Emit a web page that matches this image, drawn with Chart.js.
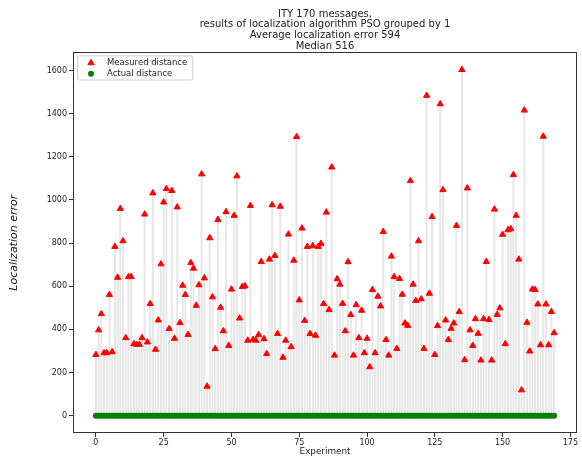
<!DOCTYPE html>
<html>
<head>
<meta charset="utf-8">
<script src="https://cdn.jsdelivr.net/npm/chart.js@4/dist/chart.umd.min.js"></script>
<style>
  html, body { margin: 0; padding: 0; background: #ffffff; }
  #wrap { width: 582px; height: 457px; }
</style>
</head>
<body>
<div id="wrap"><canvas id="c" width="582" height="457"></canvas></div>
<script>
// Localization error per experiment (170 messages, PSO, grouped by 1)
const measuredDistance = [
  283, 397, 472, 291, 291, 561, 296, 784, 641, 960,
  810, 361, 644, 644, 333, 330, 330, 361, 934, 341,
  519, 1032, 307, 443, 703, 990, 1052, 403, 1043, 358,
  967, 431, 604, 561, 376, 709, 683, 511, 606, 1120,
  638, 136, 824, 550, 310, 909, 502, 393, 945, 325,
  586, 928, 1111, 452, 598, 601, 349, 974, 353, 349,
  375, 714, 356, 287, 725, 977, 742, 380, 970, 270,
  349, 841, 319, 720, 1293, 536, 869, 441, 784, 380,
  787, 372, 784, 798, 519, 943, 491, 1152, 280, 634,
  609, 520, 393, 713, 468, 280, 514, 361, 488, 291,
  358, 226, 584, 291, 553, 508, 853, 352, 280, 739,
  644, 311, 635, 562, 429, 418, 1089, 609, 533, 810,
  541, 311, 1484, 567, 922, 283, 417, 1445, 1047, 443,
  352, 404, 429, 881, 482, 1604, 259, 1055, 397, 325,
  449, 381, 257, 449, 714, 445, 257, 957, 469, 499,
  840, 333, 861, 866, 1117, 928, 725, 119, 1416, 432,
  299, 586, 584, 517, 328, 1295, 517, 328, 482, 384
];

const actualDistance = [
  0,0,0,0,0,0,0,0,0,0, 0,0,0,0,0,0,0,0,0,0,
  0,0,0,0,0,0,0,0,0,0, 0,0,0,0,0,0,0,0,0,0,
  0,0,0,0,0,0,0,0,0,0, 0,0,0,0,0,0,0,0,0,0,
  0,0,0,0,0,0,0,0,0,0, 0,0,0,0,0,0,0,0,0,0,
  0,0,0,0,0,0,0,0,0,0, 0,0,0,0,0,0,0,0,0,0,
  0,0,0,0,0,0,0,0,0,0, 0,0,0,0,0,0,0,0,0,0,
  0,0,0,0,0,0,0,0,0,0, 0,0,0,0,0,0,0,0,0,0,
  0,0,0,0,0,0,0,0,0,0, 0,0,0,0,0,0,0,0,0,0,
  0,0,0,0,0,0,0,0,0,0
];

const xTicks = [0, 25, 50, 75, 100, 125, 150, 175];
const yTicks = [0, 200, 400, 600, 800, 1000, 1200, 1400, 1600];

const titleLines = [
  'ITY 170 messages,',
  'results of localization algorithm PSO grouped by 1',
  'Average localization error 594',
  'Median 516'
];

const FONT = '"DejaVu Sans", "Liberation Sans", sans-serif';
const INK = '#222222';

const toPoints = arr => arr.map((v, i) => ({ x: i, y: v }));

// Rectangular frame around the plotting area (all four spines)
const frame = {
  id: 'frame',
  afterDatasetsDraw(chart) {
    const { ctx, chartArea: a } = chart;
    ctx.save();
    ctx.strokeStyle = '#333333';
    ctx.lineWidth = 1;
    const l = Math.round(a.left) + 0.5, t = Math.round(a.top) + 0.5;
    const r = Math.round(a.right) - 0.5, b = Math.round(a.bottom) - 0.5;
    ctx.strokeRect(l, t, r - l, b - t);
    ctx.restore();
  }
};

// Boxed legend in the upper-left corner of the plot
const legendBox = {
  id: 'legendBox',
  afterDraw(chart) {
    const { ctx, chartArea: a } = chart;
    const items = chart.data.datasets.filter(d => d.inLegend);
    ctx.save();
    ctx.font = '8.5px ' + FONT;
    let w = 0;
    items.forEach(d => { w = Math.max(w, ctx.measureText(d.label).width); });
    const x0 = a.left + 4.5, y0 = a.top + 3.5;
    const bw = w + 35, bh = items.length * 10.8 + 2.5;
    const rad = 2;
    ctx.beginPath();
    ctx.moveTo(x0 + rad, y0);
    ctx.lineTo(x0 + bw - rad, y0);
    ctx.quadraticCurveTo(x0 + bw, y0, x0 + bw, y0 + rad);
    ctx.lineTo(x0 + bw, y0 + bh - rad);
    ctx.quadraticCurveTo(x0 + bw, y0 + bh, x0 + bw - rad, y0 + bh);
    ctx.lineTo(x0 + rad, y0 + bh);
    ctx.quadraticCurveTo(x0, y0 + bh, x0, y0 + bh - rad);
    ctx.lineTo(x0, y0 + rad);
    ctx.quadraticCurveTo(x0, y0, x0 + rad, y0);
    ctx.closePath();
    ctx.fillStyle = 'rgba(255,255,255,0.85)';
    ctx.fill();
    ctx.strokeStyle = '#d0d0d0';
    ctx.lineWidth = 1;
    ctx.stroke();
    items.forEach((d, k) => {
      const cy = y0 + 7 + k * 10.8;
      ctx.fillStyle = d.backgroundColor;
      ctx.strokeStyle = d.borderColor;
      ctx.lineWidth = d.pointBorderWidth;
      Chart.helpers.drawPoint(ctx, {
        pointStyle: d.pointStyle, radius: d.pointRadius,
        borderWidth: d.pointBorderWidth, rotation: 0
      }, x0 + 13.5, cy);
      ctx.fillStyle = INK;
      ctx.textBaseline = 'middle';
      ctx.textAlign = 'left';
      ctx.fillText(d.label, x0 + 29.5, cy);
    });
    ctx.restore();
  }
};

new Chart(document.getElementById('c'), {
  type: 'scatter',
  data: {
    datasets: [
      {
        label: 'Measured distance',
        inLegend: true,
        data: toPoints(measuredDistance),
        pointStyle: 'triangle',
        pointRadius: 3.6,
        pointBorderWidth: 1,
        backgroundColor: '#ff0000',
        borderColor: '#ff0000',
        order: 1
      },
      {
        label: 'Actual distance',
        inLegend: true,
        data: toPoints(actualDistance),
        pointStyle: 'circle',
        pointRadius: 3,
        pointBorderWidth: 0,
        backgroundColor: '#008000',
        borderColor: '#008000',
        order: 2
      },
      {
        type: 'bar',
        label: 'error stems',
        data: toPoints(measuredDistance),
        backgroundColor: '#e8e8e8',
        borderWidth: 0,
        barThickness: 1.5,
        order: 3
      }
    ]
  },
  options: {
    responsive: false,
    devicePixelRatio: 1,
    animation: false,
    layout: { padding: { left: 0, right: 3, top: 0, bottom: 0 } },
    plugins: {
      legend: { display: false },
      tooltip: { enabled: false },
      title: {
        display: true,
        fullSize: false,
        text: titleLines,
        color: INK,
        font: { family: FONT, size: 10, weight: 'normal', lineHeight: 1.06 },
        padding: { top: 9, bottom: 1 }
      }
    },
    scales: {
      x: {
        type: 'linear',
        offset: false,
        min: -8.45,
        max: 177.45,
        afterBuildTicks: s => { s.ticks = xTicks.map(v => ({ value: v })); },
        afterFit: s => { s.height = 24; },
        ticks: {
          color: INK, padding: 1, maxRotation: 0, autoSkip: false,
          font: { family: FONT, size: 8 },
          callback: v => String(v)
        },
        grid: { display: true, offset: false, drawOnChartArea: false, drawTicks: true, tickLength: 4, tickColor: '#333333' },
        border: { display: false },
        title: {
          display: true, text: 'Experiment', color: INK,
          font: { family: FONT, size: 8.8 },
          padding: { top: 0, bottom: 0 }
        }
      },
      y: {
        type: 'linear',
        min: -80.2,
        max: 1684.2,
        afterBuildTicks: s => { s.ticks = yTicks.map(v => ({ value: v })); },
        afterFit: s => { s.width = 73; },
        ticks: {
          color: INK, padding: 2,
          font: { family: FONT, size: 8 },
          callback: v => String(v)
        },
        grid: { display: true, drawOnChartArea: false, drawTicks: true, tickLength: 4, tickColor: '#333333' },
        border: { display: false },
        title: {
          display: true, text: 'Localization error', color: '#111111',
          font: { family: FONT, size: 11, style: 'italic' },
          padding: { top: 7.5, bottom: 0 }
        }
      }
    }
  },
  plugins: [frame, legendBox]
});
</script>
</body>
</html>
